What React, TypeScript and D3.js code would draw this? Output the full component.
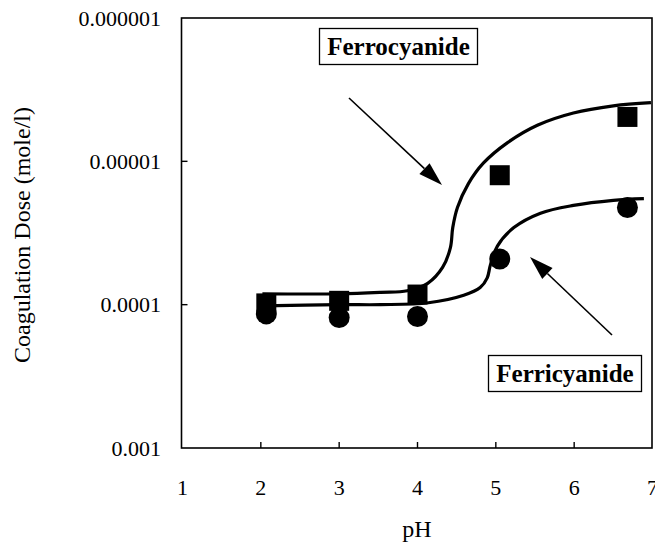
import React from "react";
import * as d3 from "d3";

// ---- data ----
const xTicks = [1, 2, 3, 4, 5, 6, 7];
const yTicks = [1e-6, 1e-5, 1e-4, 1e-3];
const yTickLabels = ["0.000001", "0.00001", "0.0001", "0.001"];

const pointPH = [2.07, 3.0, 4.0, 5.05, 6.68];
const ferrocyanideDose = [9.8e-5, 9.4e-5, 8.5e-5, 1.25e-5, 4.9e-6];
const ferricyanideDose = [1.16e-4, 1.23e-4, 1.21e-4, 4.8e-5, 2.1e-5];

const ferroCurvePH = [2.02, 3.0, 3.53, 3.87, 4.13, 4.32, 4.42, 4.45, 4.51, 4.65, 4.84, 5.15, 5.53, 5.99, 6.5, 6.98];
const ferroCurveDose = [8.4e-5, 8.4e-5, 8.2e-5, 8.0e-5, 7.1e-5, 5.5e-5, 4.0e-5, 2.9e-5, 2.1e-5, 1.43e-5, 1.03e-5, 7.4e-6, 5.6e-6, 4.6e-6, 4.1e-6, 3.9e-6];

const ferriCurvePH = [2.02, 3.0, 3.53, 4.14, 4.59, 4.8, 4.89, 4.93, 5.02, 5.23, 5.57, 5.99, 6.5, 6.89];
const ferriCurveDose = [1.02e-4, 1.0e-4, 1.0e-4, 9.7e-5, 8.6e-5, 7.6e-5, 6.5e-5, 5.3e-5, 3.9e-5, 2.9e-5, 2.3e-5, 2.03e-5, 1.87e-5, 1.82e-5];

const FONT = "'Liberation Serif', 'Times New Roman', serif";

export default function App() {
  const W = 655, H = 542;
  const left = 181.5, right = 652, top = 18, bottom = 448;
  const x = d3.scaleLinear().domain([1, 7]).range([182.5, 652.5]);
  const y = d3.scaleLog().domain([1e-6, 1e-3]).range([top, bottom]);

  const line = d3
    .line<[number, number]>()
    .x((d) => x(d[0]))
    .y((d) => y(d[1]))
    .curve(d3.curveCatmullRom.alpha(0.5));

  const ferroPath = line(ferroCurvePH.map((p, i) => [p, ferroCurveDose[i]] as [number, number])) || "";
  const ferriPath = line(ferriCurvePH.map((p, i) => [p, ferriCurveDose[i]] as [number, number])) || "";

  const sq = 20;
  const r = 10.5;

  const arrow = (x1: number, y1: number, x2: number, y2: number) => {
    const ang = Math.atan2(y2 - y1, x2 - x1);
    const len = 24, hw = 7.5;
    const bx = x2 - len * Math.cos(ang), by = y2 - len * Math.sin(ang);
    const px = -Math.sin(ang) * hw, py = Math.cos(ang) * hw;
    return (
      <g>
        <line x1={x1} y1={y1} x2={bx} y2={by} stroke="#000" strokeWidth={1.6} />
        <polygon points={`${x2},${y2} ${bx + px},${by + py} ${bx - px},${by - py}`} fill="#000" />
      </g>
    );
  };

  return (
    <svg width={W} height={H} style={{ position: "absolute", left: 0, top: 0, background: "#fff" }} fontFamily={FONT}>
      <rect x={0} y={0} width={W} height={H} fill="#fff" />
      {/* frame */}
      <rect x={left} y={top} width={right - left} height={bottom - top} fill="none" stroke="#000" strokeWidth={1.6} />
      {/* x ticks */}
      {xTicks.map((t) => (
        <g key={"xt" + t}>
          {t > 1 && t < 7 && <line x1={x(t)} x2={x(t)} y1={bottom} y2={bottom - 6} stroke="#000" strokeWidth={1.4} />}
          <text x={x(t)} y={495} fontSize={22} textAnchor="middle" fill="#000">{t}</text>
        </g>
      ))}
      {/* y ticks */}
      {yTicks.map((t, i) => (
        <g key={"yt" + i}>
          {i > 0 && i < yTicks.length - 1 && <line x1={left} x2={left + 6} y1={y(t)} y2={y(t)} stroke="#000" strokeWidth={1.4} />}
          <text x={161} y={y(t)} dy="0.35em" fontSize={22} textAnchor="end" fill="#000">{yTickLabels[i]}</text>
        </g>
      ))}
      {/* axis titles */}
      <text x={417} y={537} fontSize={24} textAnchor="middle" fill="#000">pH</text>
      <text transform={`translate(30,235) rotate(-90)`} fontSize={24} textAnchor="middle" fill="#000">Coagulation Dose (mole/l)</text>

      {/* curves */}
      <path d={ferroPath} fill="none" stroke="#000" strokeWidth={3.2} />
      <path d={ferriPath} fill="none" stroke="#000" strokeWidth={3.2} />

      {/* markers */}
      {pointPH.map((p, i) => (
        <rect key={"s" + i} x={x(p) - sq / 2} y={y(ferrocyanideDose[i]) - sq / 2} width={sq} height={sq} fill="#000" />
      ))}
      {pointPH.map((p, i) => (
        <circle key={"c" + i} cx={x(p)} cy={y(ferricyanideDose[i])} r={r} fill="#000" />
      ))}

      {/* annotations */}
      <rect x={319.5} y={28.5} width={158} height={36} fill="#fff" stroke="#000" strokeWidth={1.3} />
      <text x={398.5} y={55} fontSize={25} fontWeight="bold" textAnchor="middle" fill="#000">Ferrocyanide</text>
      {arrow(349, 98, 442, 185)}

      <rect x={488.5} y={355.5} width={153} height={36} fill="#fff" stroke="#000" strokeWidth={1.3} />
      <text x={565} y={382} fontSize={25} fontWeight="bold" textAnchor="middle" fill="#000">Ferricyanide</text>
      {arrow(612, 335, 530, 257)}
    </svg>
  );
}
